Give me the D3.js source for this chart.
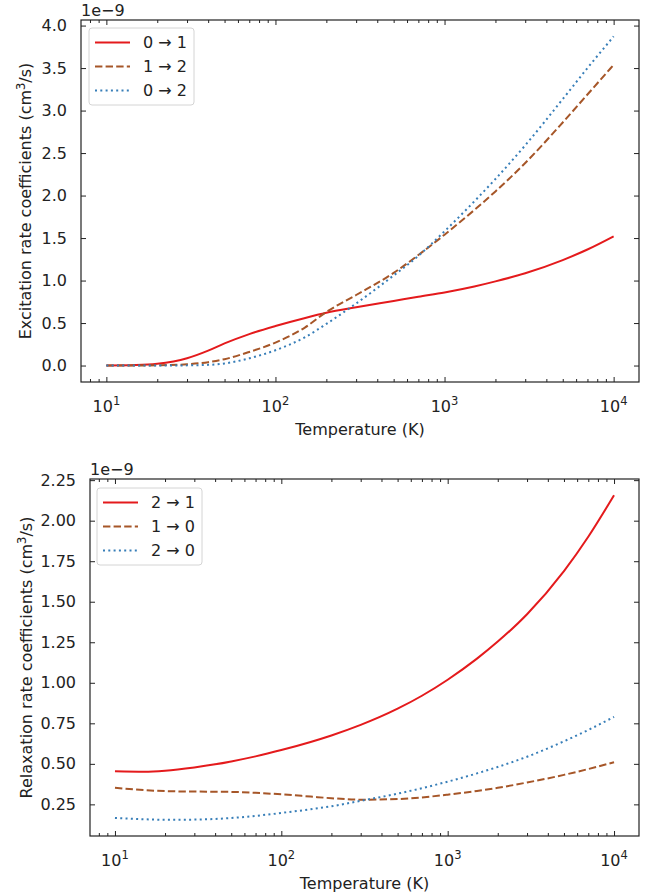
<!DOCTYPE html>
<html>
<head>
<meta charset="utf-8">
<script src="https://cdn.jsdelivr.net/npm/d3@7"></script>
<style>
body { margin: 0; background: #fff; }
text { font-family: "DejaVu Sans", sans-serif; fill: #222; }
.tick line { stroke: #222; }
</style>
</head>
<body>
<div id="svgcontainer"></div>
<script>
  var temps = [10, 15, 20, 30, 40, 50, 70, 100, 150, 200, 300, 500, 700, 1000, 1500, 2000, 3000, 5000, 7000, 10000];

  // excitation rate coefficients, units of 1e-9 cm^3/s
  var exc01 = [0.0, 0.005, 0.02, 0.085, 0.175, 0.26, 0.37, 0.465, 0.56, 0.62, 0.685, 0.76, 0.81, 0.86, 0.93, 0.99, 1.086, 1.241, 1.365, 1.52];
  var exc12 = [0.0, 0.0, 0.003, 0.015, 0.04, 0.075, 0.16, 0.27, 0.45, 0.63, 0.83, 1.09, 1.30, 1.54, 1.83, 2.049, 2.383, 2.86, 3.189, 3.538];
  var exc02 = [0.0, 0.0, 0.0, 0.002, 0.008, 0.025, 0.085, 0.18, 0.335, 0.49, 0.73, 1.06, 1.29, 1.58, 1.932, 2.195, 2.591, 3.135, 3.50, 3.872];

  // relaxation rate coefficients, units of 1e-9 cm^3/s
  var rel21 = [0.455, 0.452, 0.458, 0.478, 0.497, 0.515, 0.546, 0.585, 0.635, 0.675, 0.74, 0.84, 0.92, 1.019, 1.149, 1.254, 1.423, 1.689, 1.901, 2.157];
  var rel10 = [0.352, 0.338, 0.332, 0.329, 0.328, 0.327, 0.321, 0.312, 0.298, 0.288, 0.279, 0.283, 0.293, 0.31, 0.333, 0.352, 0.385, 0.432, 0.468, 0.51];
  var rel20 = [0.166, 0.158, 0.155, 0.156, 0.16, 0.166, 0.179, 0.197, 0.22, 0.238, 0.272, 0.316, 0.35, 0.39, 0.441, 0.481, 0.544, 0.639, 0.709, 0.79];

  var excLabels = ["0 \u2192 1", "1 \u2192 2", "0 \u2192 2"];
  var relLabels = ["2 \u2192 1", "1 \u2192 0", "2 \u2192 0"];

  var excTicks = [0, 0.5, 1.0, 1.5, 2.0, 2.5, 3.0, 3.5, 4.0];
  var relTicks = [0.25, 0.5, 0.75, 1.0, 1.25, 1.5, 1.75, 2.0, 2.25];
  var xTicks = [10, 100, 1000, 10000];
  var xTickExp = ["1", "2", "3", "4"];

  var colors = ["#e41a1c", "#a65628", "#377eb8"];
  var dashes = ["none", "7.4,3.2", "2,3.3"];

  var width = 660;
  var height = 896;
  var svg = d3.select("#svgcontainer")
              .append("svg")
              .attr("width", width)
              .attr("height", height);
  svg.append("rect").attr("width", width).attr("height", height).attr("fill", "#fff");

  function drawPanel(opt) {
    var left = opt.left, right = 639, top = opt.top, bottom = opt.bottom;

    var x = d3.scaleLog()
              .domain([Math.pow(10, 0.85), Math.pow(10, 4.15)])
              .range([left, right]);

    var all = d3.merge(opt.series);
    var ext = d3.extent(all);
    var pad = 0.05 * (ext[1] - ext[0]);
    var y = d3.scaleLinear()
              .domain([ext[0] - pad, ext[1] + pad])
              .range([bottom, top]);

    // minor log ticks
    var minor = [];
    [1, 10, 100, 1000].forEach(function(d) {
      for (var k = 2; k <= 9; k++) minor.push(d * k);
    });
    minor = minor.filter(function(v) { return v > x.domain()[0] && v < x.domain()[1]; });

    var g = svg.append("g");

    // major + minor ticks on bottom and top (pointing inward)
    g.append("g").attr("transform", "translate(0," + bottom + ")")
     .call(d3.axisBottom(x).tickValues(xTicks).tickSize(-5).tickFormat(""));
    g.append("g").attr("transform", "translate(0," + bottom + ")")
     .call(d3.axisBottom(x).tickValues(minor).tickSize(-3).tickFormat(""));
    g.append("g").attr("transform", "translate(0," + top + ")")
     .call(d3.axisTop(x).tickValues(xTicks).tickSize(-5).tickFormat(""));
    g.append("g").attr("transform", "translate(0," + top + ")")
     .call(d3.axisTop(x).tickValues(minor).tickSize(-3).tickFormat(""));

    // y ticks left (labelled) and right
    g.append("g").attr("transform", "translate(" + left + ",0)")
     .call(d3.axisLeft(y).tickValues(opt.yTicks).tickSize(-5).tickPadding(14).tickFormat(d3.format(opt.yFormat)))
     .call(function(s) { s.selectAll("text").style("font-size", "16px").style("font-family", "DejaVu Sans").attr("fill", "#222"); });
    g.append("g").attr("transform", "translate(" + right + ",0)")
     .call(d3.axisRight(y).tickValues(opt.yTicks).tickSize(-5).tickFormat(""));
    g.selectAll(".domain").remove();

    // x tick labels as 10^n
    var xl = g.append("g").selectAll("text")
              .data(xTicks)
              .enter().append("text")
              .attr("x", function(d) { return x(d); })
              .attr("y", bottom + 29.5)
              .attr("text-anchor", "middle")
              .style("font-size", "16px");
    xl.append("tspan").text("10");
    xl.append("tspan").attr("dy", -7).style("font-size", "11.5px")
      .text(function(d, i) { return xTickExp[i]; });

    // curves
    var line = d3.line()
                 .x(function(d) { return x(d[0]); })
                 .y(function(d) { return y(d[1]); })
                 .curve(d3.curveMonotoneX);
    opt.series.forEach(function(vals, i) {
      g.append("path")
       .datum(temps.map(function(t, j) { return [t, vals[j]]; }))
       .attr("d", line)
       .attr("fill", "none")
       .attr("stroke", colors[i])
       .attr("stroke-width", 2)
       .attr("stroke-dasharray", dashes[i]);
    });

    // frame
    g.append("rect")
     .attr("x", left).attr("y", top)
     .attr("width", right - left).attr("height", bottom - top)
     .attr("fill", "none").attr("stroke", "#222").attr("stroke-width", 1.2);

    // offset text
    g.append("text").attr("x", left).attr("y", top - 4)
     .style("font-size", "16px").text("1e\u22129");

    // axis labels
    g.append("text")
     .attr("x", (left + right) / 2).attr("y", bottom + 53)
     .attr("text-anchor", "middle")
     .style("font-size", "16px")
     .text("Temperature (K)");
    var yl = g.append("text")
              .attr("transform", "translate(" + opt.yLabelX + "," + (top + bottom) / 2 + ") rotate(-90)")
              .attr("text-anchor", "middle")
              .style("font-size", "16px");
    yl.append("tspan").text(opt.yLabel + " (cm");
    yl.append("tspan").attr("dy", -6).style("font-size", "11.5px").text("3");
    yl.append("tspan").attr("dy", 6).text("/s)");

    // legend
    var lx = left + opt.legDx, ly = top + opt.legDy;
    var leg = g.append("g").attr("transform", "translate(" + lx + "," + ly + ")");
    leg.append("rect")
       .attr("width", 105).attr("height", 77)
       .attr("rx", 3)
       .attr("fill", "#fff").attr("fill-opacity", 0.8)
       .attr("stroke", "#d4d4d4");
    opt.labels.forEach(function(lab, i) {
      var yy = 14.5 + i * 24;
      leg.append("line")
         .attr("x1", 6).attr("x2", 41).attr("y1", yy).attr("y2", yy)
         .attr("stroke", colors[i]).attr("stroke-width", 2)
         .attr("stroke-dasharray", dashes[i]);
      leg.append("text")
         .attr("x", 54).attr("y", yy)
         .attr("dy", "0.36em")
         .style("font-size", "16px")
         .text(lab);
    });
  }

  drawPanel({
    left: 81, top: 20, bottom: 382,
    series: [exc01, exc12, exc02],
    yTicks: excTicks, yFormat: ".1f",
    yLabel: "Excitation rate coefficients", yLabelX: 31,
    labels: excLabels, legDx: 8, legDy: 8
  });
  drawPanel({
    left: 90, top: 479, bottom: 836,
    series: [rel21, rel10, rel20],
    yTicks: relTicks, yFormat: ".2f",
    yLabel: "Relaxation rate coefficients", yLabelX: 32,
    labels: relLabels, legDx: 7, legDy: 9
  });
</script>
</body>
</html>
